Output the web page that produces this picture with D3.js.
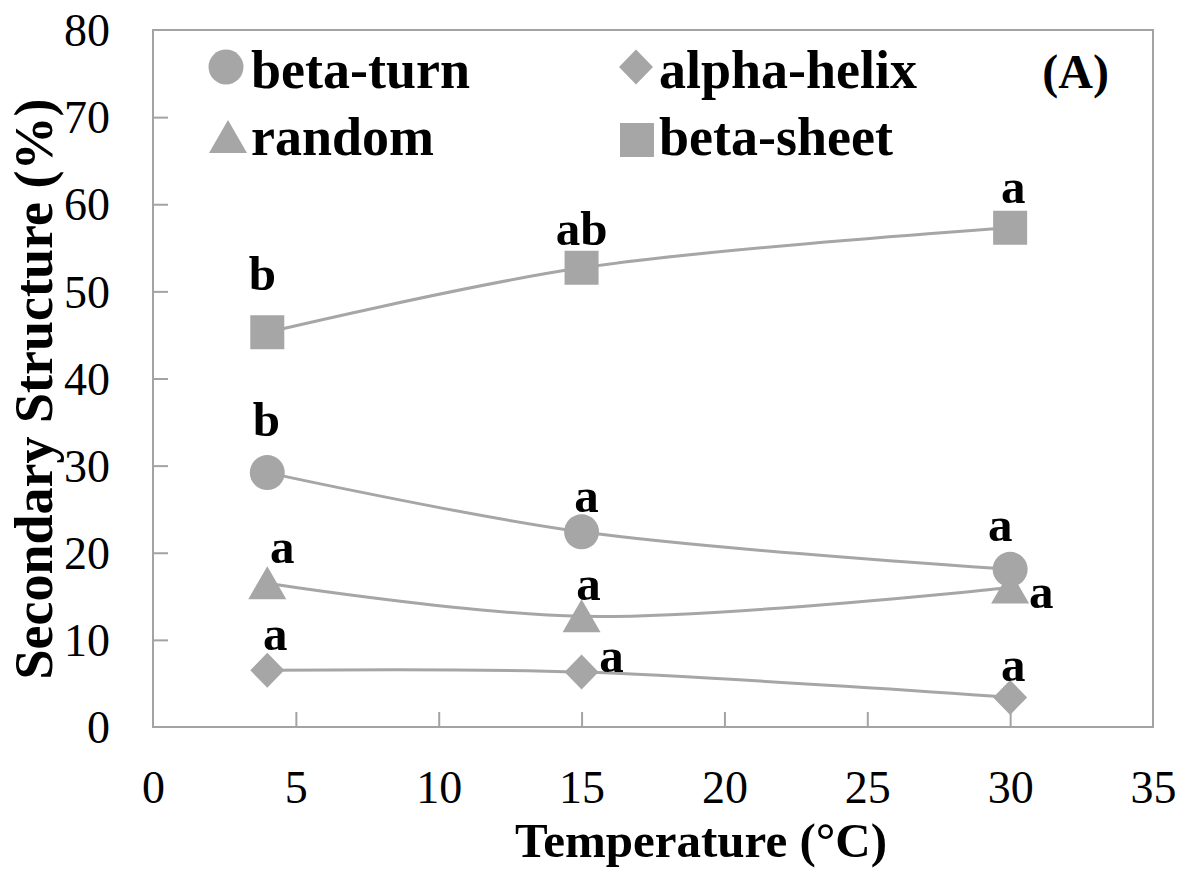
<!DOCTYPE html>
<html>
<head>
<meta charset="utf-8">
<script src="https://cdn.jsdelivr.net/npm/d3@7"></script>
<style>
  html, body { margin: 0; padding: 0; background: #fff; }
  svg { display: block; }
  text { font-family: "Liberation Serif", "Times New Roman", serif; fill: #000; }
</style>
</head>
<body>
<svg id="chart" width="1178" height="869"></svg>
<script>
// ---------------- data ----------------
const temperatures = [4, 15, 30];
const seriesNames = ["beta-turn", "alpha-helix", "random", "beta-sheet"];
const betaTurn   = [29.2, 22.4, 18.1];
const alphaHelix = [6.5, 6.3, 3.4];
const randomCoil = [16.5, 12.7, 16.0];
const betaSheet  = [45.3, 52.7, 57.3];
const betaTurnLetters   = ["b", "a", "a"];
const alphaHelixLetters = ["a", "a", "a"];
const randomLetters     = ["a", "a", "a"];
const betaSheetLetters  = ["b", "ab", "a"];
const xTicks = [0, 5, 10, 15, 20, 25, 30, 35];
const yTicks = [0, 10, 20, 30, 40, 50, 60, 70, 80];
const xTitle = "Temperature (°C)";
const yTitle = "Secondary Structure (%)";
const panelTag = "(A)";

// ---------------- layout / style ----------------
const svg = d3.select("#chart");
const pLeft = 153, pRight = 1153, pTop = 30, pBottom = 727;
const x = d3.scaleLinear().domain([0, 35]).range([pLeft, pRight]);
const y = d3.scaleLinear().domain([0, 80]).range([pBottom, pTop]);
const grey = "#a6a6a6";
const axisGrey = "#a3a3a3";

// label offsets (px) relative to each point: [dx, dy of baseline]
const labelOffsets = {
  "beta-turn":   [[-1, -37], [5, -20], [-10, -28]],
  "alpha-helix": [[8, -20], [30, 0], [3, -16]],
  "random":      [[15, -20], [7, -16], [31, 20]],
  "beta-sheet":  [[-5, -42], [0, -23], [3, -25]]
};

const series = [
  { name: "beta-turn",   values: betaTurn,   letters: betaTurnLetters,   shape: "circle" },
  { name: "alpha-helix", values: alphaHelix, letters: alphaHelixLetters, shape: "diamond" },
  { name: "random",      values: randomCoil, letters: randomLetters,     shape: "triangle" },
  { name: "beta-sheet",  values: betaSheet,  letters: betaSheetLetters,  shape: "square" }
];
// drawing order of markers (circle drawn over triangle as in the reference)
const markerOrder = ["random", "beta-sheet", "alpha-helix", "beta-turn"];

function markerPath(shape) {
  if (shape === "circle") return d3.symbol(d3.symbolCircle, Math.PI * 17.5 * 17.5)();
  if (shape === "square") return "M-17,-17H17V17H-17Z";
  if (shape === "diamond") return "M0,-17.5L17,0L0,17.5L-17,0Z";
  if (shape === "triangle") return "M0,-17L19,16L-19,16Z";
}

// ---------------- frame ----------------
svg.append("rect")
  .attr("x", pLeft).attr("y", pTop)
  .attr("width", pRight - pLeft).attr("height", pBottom - pTop)
  .attr("fill", "none").attr("stroke", axisGrey).attr("stroke-width", 2);

// x axis ticks (inward) and labels
const xAxis = svg.append("g").attr("transform", `translate(0,${pBottom})`)
  .call(d3.axisBottom(x).tickValues(xTicks).tickSize(-15).tickPadding(0).tickFormat(d3.format("d")));
xAxis.select(".domain").remove();
xAxis.selectAll(".tick line").attr("stroke", axisGrey).attr("stroke-width", 2)
  .filter(d => d === 0 || d === 35).remove();
xAxis.selectAll(".tick text")
  .attr("y", 76).attr("dy", 0)
  .style("font-size", "46px").style("font-family", "Liberation Serif");

// y axis ticks (inward) and labels
const yAxis = svg.append("g").attr("transform", `translate(${pLeft},0)`)
  .call(d3.axisLeft(y).tickValues(yTicks).tickSize(-15).tickPadding(0).tickFormat(d3.format("d")));
yAxis.select(".domain").remove();
yAxis.selectAll(".tick line").attr("stroke", axisGrey).attr("stroke-width", 2)
  .filter(d => d === 0 || d === 80).remove();
yAxis.selectAll(".tick text")
  .attr("x", -43).attr("dy", "0.34em")
  .style("font-size", "46px").style("font-family", "Liberation Serif");

// ---------------- lines ----------------
const line = d3.line()
  .x((d, i) => x(temperatures[i]))
  .y(d => y(d))
  .curve(d3.curveCatmullRom.alpha(0.5));

series.forEach(s => {
  svg.append("path")
    .attr("d", line(s.values))
    .attr("fill", "none").attr("stroke", grey).attr("stroke-width", 3);
});

// ---------------- markers ----------------
markerOrder.forEach(name => {
  const s = series.find(t => t.name === name);
  svg.append("g").selectAll("path").data(s.values).join("path")
    .attr("d", markerPath(s.shape))
    .attr("transform", (d, i) => `translate(${x(temperatures[i])},${y(d)})`)
    .attr("fill", grey);
});

// ---------------- significance letters ----------------
series.forEach(s => {
  svg.append("g").selectAll("text").data(s.values).join("text")
    .attr("x", (d, i) => x(temperatures[i]) + labelOffsets[s.name][i][0])
    .attr("y", (d, i) => y(d) + labelOffsets[s.name][i][1])
    .attr("text-anchor", "middle")
    .style("font-size", "49px").style("font-weight", "bold")
    .text((d, i) => s.letters[i]);
});

// ---------------- legend ----------------
const legendPos = [
  { mx: 226, my: 67, tx: 251, ty: 88 },
  { mx: 636, my: 67, tx: 659, ty: 88 },
  { mx: 228, my: 137, tx: 251, ty: 155 },
  { mx: 637, my: 140, tx: 659, ty: 155 }
];
series.forEach((s, i) => {
  const p = legendPos[i];
  svg.append("path").attr("d", markerPath(s.shape))
    .attr("transform", `translate(${p.mx},${p.my})`).attr("fill", grey);
  svg.append("text").attr("x", p.tx).attr("y", p.ty)
    .style("font-size", "54px").style("font-weight", "bold")
    .text(seriesNames[i]);
});

svg.append("text").attr("x", 1109).attr("y", 88).attr("text-anchor", "end")
  .style("font-size", "48px").style("font-weight", "bold").text(panelTag);

// ---------------- axis titles ----------------
svg.append("text").attr("x", 701).attr("y", 857).attr("text-anchor", "middle")
  .style("font-size", "49px").style("font-weight", "bold").text(xTitle);

svg.append("text")
  .attr("transform", "translate(52,389) rotate(-90)")
  .attr("text-anchor", "middle")
  .style("font-size", "54px").style("font-weight", "bold").text(yTitle);
</script>
</body>
</html>
